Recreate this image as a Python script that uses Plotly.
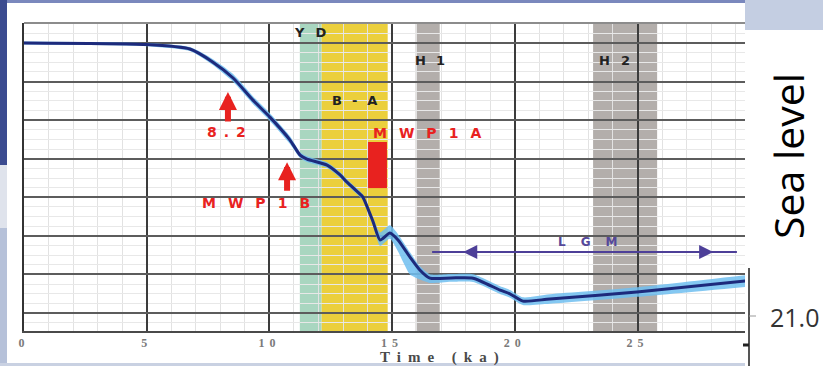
import plotly.graph_objects as go

# ---------------- data ----------------
age_ka = [0, 4.97, 6.76, 7.70, 8.52, 9.33, 10.02, 10.84, 11.25, 11.53, 12.35, 12.88,
          13.16, 13.69, 13.81, 14.22, 14.51, 14.91, 15.24, 15.73, 16.12, 16.54, 17.4,
          18.30, 19.40, 19.8, 20.33, 21.43, 24.98, 29.4]
sea_level_m = [0, -0.8, -3.1, -9.9, -18.1, -29.6, -38.4, -50.3, -58.1, -60.2, -63.3, -68.4,
               -72.1, -78.3, -79.9, -92.5, -102.1, -98.5, -102.1, -111.0, -117.5, -121.9, -121.8,
               -121.9, -128.1, -130.0, -133.8, -132.7, -129.1, -123.4]
err_up_m = [0.8, 0.8, 1.0, 1.5, 2.0, 2.0, 2.0, 2.0, 1.5, 1.5, 1.5, 1.5,
            1.5, 1.5, 1.5, 2.0, 4.0, 4.0, 3.0, 2.5, 2.0, 2.0, 2.0,
            2.0, 2.0, 2.0, 2.0, 2.5, 2.5, 3.0]
err_dn_m = [0.8, 0.8, 1.0, 1.5, 2.0, 2.0, 2.0, 2.0, 1.5, 1.5, 1.5, 1.5,
            1.5, 1.5, 1.5, 2.0, 3.0, 3.0, 6.0, 9.0, 5.0, 2.5, 2.0,
            2.0, 2.0, 2.0, 2.0, 2.5, 2.5, 3.0]

x_tick_vals = [0, 5, 10, 15, 20, 25]
x_tick_text = ["0", "5", "10", "15", "20", "25"]

# climate periods (ka)
yd_period = (11.24, 12.13)
ba_period = (12.13, 14.82)
h1_period = (15.96, 16.94)
h2_period = (23.19, 25.80)
mwp1a_period = (14.02, 14.79)
mwp1a_levels = (-51.3, -75.2)
lgm_span = (16.63, 29.05)
lgm_level = -108.4

# event arrows: (age, tip level, tail level)
ev_82 = (8.31, -25.4, -41.5)
ev_mwp1b = (10.72, -61.8, -77.4)

X_RANGE = [0, 29.38]
Y_RANGE = [-149.3, 10.4]

# ---------------- figure ----------------
W, H = 823, 366
ML, MR, MT, MB = 24, 78, 23, 35
PW, PH = W - ML - MR, H - MT - MB


def px(xp):
    return (xp - ML) / PW


def py(yp):
    return (H - MB - yp) / PH


def spaced(txt, sp):
    return f'<span style="letter-spacing:{sp}px">{txt}</span>'


upper = [s + e for s, e in zip(sea_level_m, err_up_m)]
lower = [s - e for s, e in zip(sea_level_m, err_dn_m)]

fig = go.Figure()
fig.add_trace(go.Scatter(x=age_ka, y=upper, mode="lines", line=dict(width=0, shape="spline", smoothing=0.6),
                         hoverinfo="skip", showlegend=False))
fig.add_trace(go.Scatter(x=age_ka, y=lower, mode="lines", line=dict(width=0, shape="spline", smoothing=0.6),
                         fill="tonexty", fillcolor="rgba(110,190,240,0.85)", hoverinfo="skip",
                         showlegend=False))
fig.add_trace(go.Scatter(x=age_ka, y=sea_level_m, mode="lines",
                         line=dict(color="#1d2a7c", width=3, shape="spline", smoothing=0.6),
                         showlegend=False))

shapes = []
# period bands
for (a, b), col in [(yd_period, "#a9d6c0"), (ba_period, "#ebcf3c"),
                    (h1_period, "#b3aeab"), (h2_period, "#b3aeab")]:
    shapes.append(dict(type="rect", xref="x", yref="paper", x0=a, x1=b, y0=0, y1=1,
                       fillcolor=col, line=dict(width=0), layer="below"))
# MWP1A bar
shapes.append(dict(type="rect", xref="x", yref="y", x0=mwp1a_period[0], x1=mwp1a_period[1],
                   y0=mwp1a_levels[0], y1=mwp1a_levels[1], fillcolor="#e8221f",
                   line=dict(width=0), layer="above"))
# LGM arrow shaft
shapes.append(dict(type="line", xref="x", yref="y", x0=lgm_span[0], x1=lgm_span[1],
                   y0=lgm_level, y1=lgm_level, line=dict(color="#4d3f98", width=2)))
# top border of the plot
shapes.append(dict(type="line", xref="paper", yref="paper", x0=0, x1=1, y0=1, y1=1,
                   line=dict(color="#8c8c8c", width=2)))

# slide background pieces around the picture
def prect(x0, y0, x1, y1, col):
    shapes.append(dict(type="rect", xref="paper", yref="paper", x0=px(x0), x1=px(x1),
                       y0=py(y1), y1=py(y0), fillcolor=col, line=dict(width=0), layer="above"))

prect(0, 0, 7, 165, "#3b4b90")
prect(0, 165, 7, 228, "#dfe3ec")
prect(0, 228, 7, 366, "#b6c1d9")
prect(7, 0, 745, 3, "#7a88bd")
prect(745, 0, 823, 30, "#c4cee2")
prect(0, 363, 745, 366, "#c9d1e2")
# axis of the neighbouring chart on the right
shapes.append(dict(type="line", xref="paper", yref="paper", x0=px(749), x1=px(749),
                   y0=py(268), y1=py(366), line=dict(color="#555", width=2)))
shapes.append(dict(type="line", xref="paper", yref="paper", x0=px(749), x1=px(756),
                   y0=py(316), y1=py(316), line=dict(color="#999", width=1)))
shapes.append(dict(type="line", xref="paper", yref="paper", x0=px(743), x1=px(749),
                   y0=py(345), y1=py(345), line=dict(color="#222", width=3)))

ann = []


def lab(x, y, txt, size, sp, color):
    ann.append(dict(x=x, y=y, xref="x", yref="y", showarrow=False, xanchor="center",
                    yanchor="middle", xshift=sp / 2,
                    text="<b>" + spaced(txt, sp) + "</b>",
                    font=dict(family="DejaVu Sans", size=size, color=color)))


DARK, RED, PURP = "#222", "#e8221f", "#55489a"
lab(11.65, 5.7, "YD", 13, 11, DARK)
lab(13.45, -29.6, "B-A", 13, 10, DARK)
lab(16.54, -8.8, "H1", 13, 10, DARK)
lab(24.08, -8.8, "H2", 13, 11, DARK)
lab(22.98, -103.2, "LGM", 12, 15, PURP)
lab(ev_82[0] - 0.05, -46.1, "8.2", 14, 7, RED)
lab(9.45, -83.0, "MWP1B", 14, 12, RED)
lab(16.42, -46.7, "MWP1A", 14, 12, RED)

# red event arrows
for ag, tip, tail in [ev_82, ev_mwp1b]:
    ann.append(dict(x=ag, y=tip, ax=ag, ay=tail, xref="x", yref="y", axref="x", ayref="y",
                    text="", showarrow=True, arrowhead=2, arrowsize=0.6, arrowwidth=6,
                    arrowcolor="#e8221f", standoff=0))
# LGM arrow heads
for head, tail in [(17.9, 18.6), (28.08, 27.4)]:
    ann.append(dict(x=head, y=lgm_level, ax=tail, ay=lgm_level, xref="x", yref="y", axref="x",
                    ayref="y", text="", showarrow=True, arrowhead=2, arrowsize=1.4, arrowwidth=2,
                    arrowcolor="#4d3f98", standoff=0))

# axis title and neighbouring slide text
ann.append(dict(x=px(440), y=py(357), xref="paper", yref="paper", showarrow=False,
                text="<b>" + spaced("Time (ka)", 7) + "</b>", xanchor="center", yanchor="middle",
                xshift=3, font=dict(family="Liberation Serif", size=15, color="#4a4a4a")))
ann.append(dict(x=px(788), y=py(156), xref="paper", yref="paper", showarrow=False,
                text="Sea level", textangle=-90, xanchor="center", yanchor="middle",
                font=dict(family="Open Sans", size=41, color="#000")))
ann.append(dict(x=px(768), y=py(317), xref="paper", yref="paper", showarrow=False,
                text="21.0", xanchor="left", yanchor="middle",
                font=dict(family="Open Sans", size=25, color="#333")))

fig.update_layout(
    width=W, height=H, autosize=False,
    margin=dict(l=ML, r=MR, t=MT, b=MB, pad=0),
    paper_bgcolor="white", plot_bgcolor="white",
    shapes=shapes, annotations=ann, showlegend=False,
    xaxis=dict(range=X_RANGE, tickvals=x_tick_vals,
               ticktext=["<b>" + spaced(t, 5) + "</b>" for t in x_tick_text],
               tickfont=dict(family="Liberation Serif", size=12, color="#7a7a7a"),
               ticks="", showgrid=True, gridcolor="#3c3c3c", gridwidth=2,
               minor=dict(dtick=1, tick0=0, showgrid=True, gridcolor="#e2e2e2", gridwidth=1),
               showline=True, linecolor="#4a4a4a", linewidth=2, zeroline=False, fixedrange=True),
    yaxis=dict(range=Y_RANGE, tick0=0, dtick=20, showticklabels=False, ticks="",
               showgrid=True, gridcolor="#5c5c5c", gridwidth=1.5,
               minor=dict(dtick=5, tick0=0, showgrid=True, gridcolor="#e8e8e8", gridwidth=1),
               showline=True, linecolor="#333", linewidth=2, zeroline=False, fixedrange=True),
)

fig.write_html("out.html")
